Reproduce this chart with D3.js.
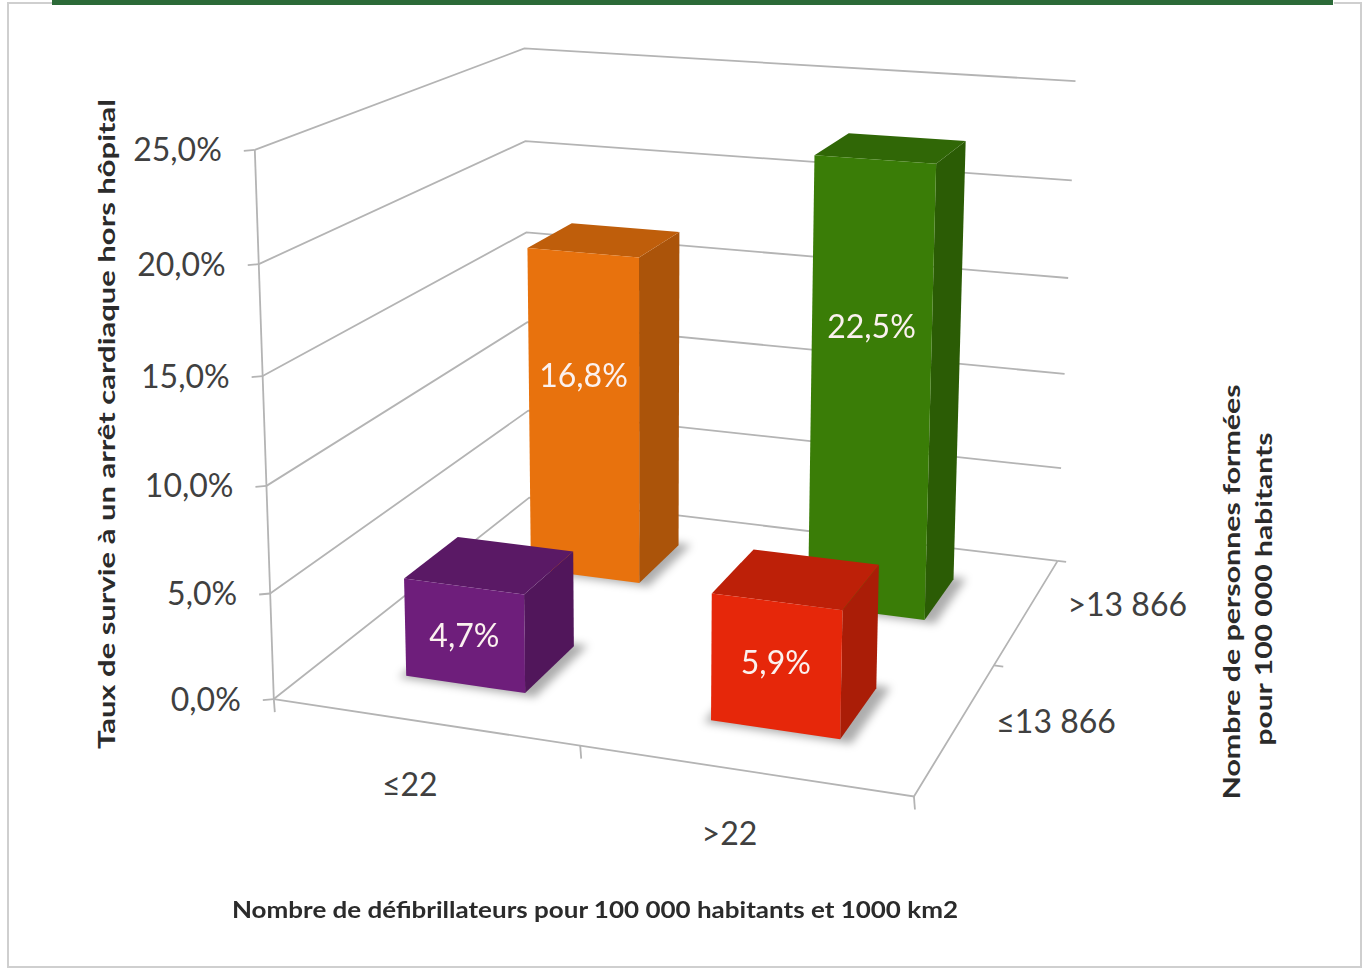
<!DOCTYPE html>
<html><head><meta charset="utf-8">
<script src="https://cdn.jsdelivr.net/npm/d3@7"></script>
<style>
body{margin:0;background:#fff}
svg{display:block}
text{font-family:Lato,"Open Sans",sans-serif}
</style></head>
<body><svg id="c" width="1363" height="973"></svg>
<script>
// ---------------- data ----------------
const categories = ["≤22", ">22"];                 // x axis (défibrillateurs)
const depthCategories = ["≤13 866", ">13 866"];    // depth axis (front → back)
const valuesLow = [4.7, 5.9];    // ≤13 866 personnes formées
const valuesHigh = [16.8, 22.5]; // >13 866 personnes formées
const yTicks = [0, 5, 10, 15, 20, 25];
const frontColors = ["#6e1e7b", "#e6270a"];
const backColors = ["#e8720d", "#3a7d07"];

// ---------------- camera (fitted on the frame of the 3D plot) ----------------
// [X(0..1), H(0..1 of value max), Z(0..1 front→back), screenX, screenY]
const frameAnchors = [
  [0,0,0,275,697],[0,1,0,255,152],[0,0.4,0,265,485],[0,0.8,0,257,265],[0,0.2,0,270,593],
  [1,0,0,916,797],[1,0,1,1058,560],[1,1,1,1075,80],[1,0.6,1,1068,278],[1,0.8,1,1072,181],
  [1,0.4,1,1063,375],[0,1,1,526,48],[0,0.8,1,526,140],[0,0.6,1,527,232],[0,0,1,528,500]
];
function fitCamera(pts){
  const cx=680, cy=480, s=500;
  const rows=[], rhs=[];
  for(const [X,H,Z,u0,v0] of pts){
    const u=(u0-cx)/s, v=(v0-cy)/s;
    rows.push([X,H,Z,1,0,0,0,0,-u*X,-u*H,-u*Z]); rhs.push(u);
    rows.push([0,0,0,0,X,H,Z,1,-v*X,-v*H,-v*Z]); rhs.push(v);
  }
  const n=11, M=[];
  for(let i=0;i<n;i++){
    M.push(new Array(n+1).fill(0));
    for(let j=0;j<n;j++) for(let k=0;k<rows.length;k++) M[i][j]+=rows[k][i]*rows[k][j];
    for(let k=0;k<rows.length;k++) M[i][n]+=rows[k][i]*rhs[k];
  }
  for(let c=0;c<n;c++){
    let p=c; for(let r=c+1;r<n;r++) if(Math.abs(M[r][c])>Math.abs(M[p][c])) p=r;
    [M[c],M[p]]=[M[p],M[c]];
    for(let r=0;r<n;r++){ if(r===c) continue; const f=M[r][c]/M[c][c]; for(let j=c;j<=n;j++) M[r][j]-=f*M[c][j]; }
  }
  const q=M.map((r,i)=>r[n]/r[i]);
  return (X,H,Z)=>{
    const w=q[8]*X+q[9]*H+q[10]*Z+1;
    return [ (q[0]*X+q[1]*H+q[2]*Z+q[3])/w*s+cx, (q[4]*X+q[5]*H+q[6]*Z+q[7])/w*s+cy ];
  };
}
const cam = fitCamera(frameAnchors);

// ---------------- scales ----------------
const y = d3.scaleLinear().domain([0,25]).range([0,1]);
const x = d3.scaleBand().domain(categories).range([0,1]).paddingInner(0.6).paddingOuter(0.3);
const z = d3.scaleBand().domain(depthCategories).range([0,1]).paddingInner(0.6).paddingOuter(0.3);
const P = (X,v,Z)=>cam(X,y(v),Z);

const fmt = d3.formatLocale({decimal:",",thousands:" ",grouping:[3],currency:["","€"]}).format(".1f");

const svg = d3.select("#c");
const defs = svg.append("defs");
defs.append("filter").attr("id","sh").attr("x","-20%").attr("y","-20%").attr("width","140%").attr("height","140%")
  .append("feGaussianBlur").attr("stdDeviation",4);

// page frame
svg.append("path").attr("d","M1334,3 H1361 V967 H8 V3 H52").attr("fill","none").attr("stroke","#cfcfcf").attr("stroke-width",2);
svg.append("rect").attr("x",52).attr("y",0).attr("width",1281).attr("height",5).attr("fill","#2c6a38");

const line = d3.line();
const grid = svg.append("g").attr("fill","none").attr("stroke","#b4b4b4").attr("stroke-width",1.8);

// gridlines on left and back walls
yTicks.forEach(t=>{
  grid.append("path").attr("d", line([P(0,t,0),P(0,t,1),P(1,t,1)]));
});
// floor edges + axis
grid.append("path").attr("d", line([P(0,0,0),P(1,0,0),P(1,0,1)]));
grid.append("path").attr("d", line([P(0,25,0),P(0,0,0)]));
// ticks
yTicks.forEach(t=>{ const p=P(0,t,0); grid.append("path").attr("d", line([[p[0]-11,p[1]+1],p])); });
[0,0.5,1].forEach(u=>{ const p=P(u,0,0); grid.append("path").attr("d", line([p,[p[0]+1,p[1]+13]])); });
[0.5,1].forEach(w=>{ grid.append("path").attr("d", line([P(1,0,w),P(1.015,0,w)])); });

// y tick labels
svg.append("g").selectAll("text").data(yTicks).join("text")
  .attr("x",t=>P(0,t,0)[0]-33).attr("y",t=>P(0,t,0)[1]).attr("dy","0.36em")
  .attr("text-anchor","end").attr("font-size",32).attr("fill","#404040")
  .text(t=>fmt(t)+"%");

// category labels
svg.append("g").selectAll("text").data(categories).join("text")
  .attr("x",c=>P(x(c)+x.bandwidth()/2,0,0)[0]-14).attr("y",c=>P(x(c)+x.bandwidth()/2,0,0)[1]+63)
  .attr("dy","0.36em").attr("text-anchor","middle").attr("font-size",32).attr("fill","#404040").text(c=>c);
// depth labels
svg.append("g").selectAll("text").data(depthCategories).join("text")
  .attr("x",d=>P(1,0,z(d)+z.bandwidth()/2)[0]+40).attr("y",d=>P(1,0,z(d)+z.bandwidth()/2)[1]-6)
  .attr("dy","0.36em").attr("text-anchor","start").attr("font-size",32).attr("fill","#404040").text(d=>d);

// bars: back row first, then front row
const bars = [];
depthCategories.slice().reverse().forEach(dc=>{
  const vals = dc===depthCategories[0] ? valuesLow : valuesHigh;
  const cols = dc===depthCategories[0] ? frontColors : backColors;
  categories.forEach((c,i)=>bars.push({c, dc, v:vals[i], color:cols[i]}));
});
const gShadow = svg.append("g").attr("filter","url(#sh)");
bars.forEach(b=>{
  const x0=x(b.c), x1=x0+x.bandwidth(), z0=z(b.dc), z1=z0+z.bandwidth();
  gShadow.append("path").attr("d", line([P(x0-0.008,0,z0-0.01),P(x1+0.02,0,z0-0.01),P(x1+0.02,0,z1+0.01),P(x0-0.008,0,z1+0.01)])+"Z")
    .attr("fill","#000").attr("opacity",0.32);
});
const gBars = svg.append("g");
bars.forEach(b=>{
  const x0=x(b.c), x1=x0+x.bandwidth(), z0=z(b.dc), z1=z0+z.bandwidth(), v=b.v;
  const base = d3.color(b.color);
  const g = gBars.append("g");
  g.append("path").attr("d", line([P(x1,0,z0),P(x1,0,z1),P(x1,v,z1),P(x1,v,z0)])+"Z").attr("fill", base.darker(0.85));
  g.append("path").attr("d", line([P(x0,v,z0),P(x1,v,z0),P(x1,v,z1),P(x0,v,z1)])+"Z").attr("fill", base.darker(0.55));
  g.append("path").attr("d", line([P(x0,0,z0),P(x1,0,z0),P(x1,v,z0),P(x0,v,z0)])+"Z").attr("fill", base);
  const lh = v*0.5 + Math.max(0, v-5)*0.18;
  const lp = P((x0+x1)/2, lh, z0);
  g.append("text").attr("x",lp[0]).attr("y",lp[1]).attr("dy","0.36em").attr("text-anchor","middle")
    .attr("font-size",32).attr("fill","#fbf1ef").text(fmt(v)+"%");
});

// axis titles
svg.append("text").attr("x",595).attr("y",910).attr("dy","0.36em").attr("text-anchor","middle")
  .attr("font-size",22).attr("font-weight","bold").attr("fill","#2b2b2b")
  .attr("textLength",726).attr("lengthAdjust","spacingAndGlyphs")
  .text("Nombre de défibrillateurs pour 100 000 habitants et 1000 km2");
svg.append("text").attr("transform","translate(107,424) rotate(-90)").attr("dy","0.36em").attr("text-anchor","middle")
  .attr("font-size",22).attr("font-weight","bold").attr("fill","#2b2b2b")
  .attr("textLength",650).attr("lengthAdjust","spacingAndGlyphs")
  .text("Taux de survie à un arrêt cardiaque hors hôpital");
svg.append("text").attr("transform","translate(1232,592) rotate(-90)").attr("dy","0.36em").attr("text-anchor","middle")
  .attr("font-size",22).attr("font-weight","bold").attr("fill","#2b2b2b")
  .attr("textLength",415).attr("lengthAdjust","spacingAndGlyphs")
  .text("Nombre de personnes formées");
svg.append("text").attr("transform","translate(1264,589) rotate(-90)").attr("dy","0.36em").attr("text-anchor","middle")
  .attr("font-size",22).attr("font-weight","bold").attr("fill","#2b2b2b")
  .attr("textLength",313).attr("lengthAdjust","spacingAndGlyphs")
  .text("pour 100 000 habitants");
</script></body></html>
